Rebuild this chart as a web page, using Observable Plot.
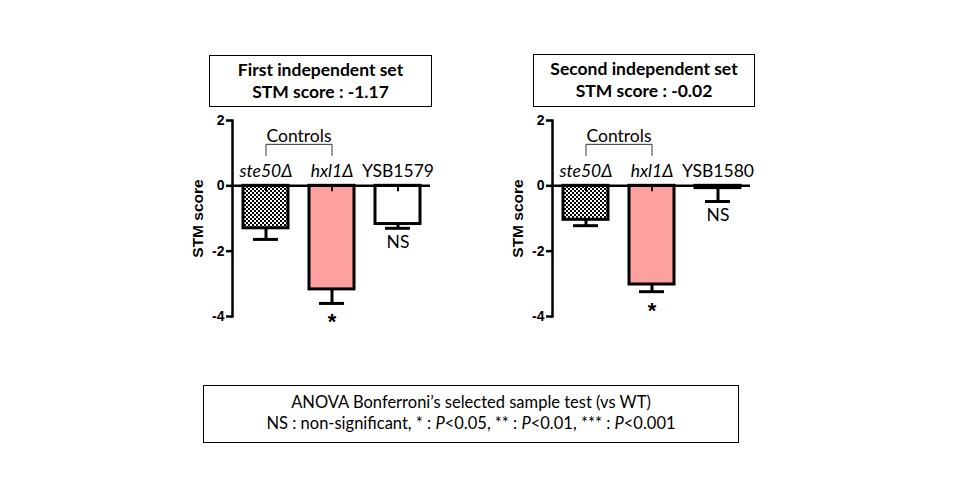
<!DOCTYPE html>
<html>
<head>
<meta charset="utf-8">
<script src="https://cdn.jsdelivr.net/npm/d3@7"></script>
<script src="https://cdn.jsdelivr.net/npm/@observablehq/plot@0.6"></script>
<style>
  html, body { margin: 0; padding: 0; background: #fff; }
  #wrap { position: relative; width: 960px; height: 500px; overflow: hidden; background: #fff; }
  .box { position: absolute; border: 1px solid #000; box-sizing: border-box; text-align: center; font-family: Lato, "Open Sans", sans-serif; color: #000; }
  .title { font-weight: bold; font-size: 17.5px; line-height: 22px; padding-top: 3px; }
  .note { font-size: 16.5px; line-height: 21px; padding-top: 6px; }
  .panel { position: absolute; top: 40px; }
</style>
</head>
<body>
<div id="wrap">
  <svg width="0" height="0" style="position:absolute">
    <defs>
      <pattern id="checker" width="4" height="4" patternUnits="userSpaceOnUse">
        <rect width="4" height="4" fill="#fff"></rect>
        <rect x="0" y="0" width="2" height="2" fill="#000"></rect>
        <rect x="2" y="2" width="2" height="2" fill="#000"></rect>
      </pattern>
    </defs>
  </svg>
  <div class="box title" style="left:209px; top:55px; width:223px; height:52px;">First independent set<br>STM score : -1.17</div>
  <div class="box title" style="left:533px; top:54px; width:222px; height:53px;">Second independent set<br>STM score : -0.02</div>
  <div class="box note" style="left:203px; top:385px; width:536px; height:58px;">ANOVA Bonferroni’s selected sample test (vs WT)<br>NS : non-significant, * : <i>P</i>&lt;0.05, ** : <i>P</i>&lt;0.01, *** : <i>P</i>&lt;0.001</div>
</div>
<script>
// ---- data ----
const categories1 = ["ste50Δ", "hxl1Δ", "YSB1579"];
const means1 = [-1.30, -3.17, -1.17];
const sem1 = [0.34, 0.43, 0.13];
const categories2 = ["ste50Δ", "hxl1Δ", "YSB1580"];
const means2 = [-1.04, -3.02, -0.07];
const sem2 = [0.18, 0.22, 0.41];
const significance = ["", "*", "NS"];
const italicLabel = [true, true, false];
const fills = ["url(#checker)", "#FFA0A0", "#FFFFFF"];
const yTicks = [2, 0, -2, -4];
const bracketLabel = "Controls";
const bracketTop = 1.27, bracketFoot = 0.93, bracketText = 1.52;

function panel(categories, means, sems, left) {
  const data = categories.map((c, i) => ({
    cat: c, value: means[i], err: means[i] - sems[i],
    sig: significance[i], italic: italicLabel[i], fill: fills[i]
  }));
  const bracket = [
    {x: categories[0], y: bracketFoot}, {x: categories[0], y: bracketTop},
    {x: categories[1], y: bracketTop}, {x: categories[1], y: bracketFoot}
  ];
  const svg = Plot.plot({
    width: 320, height: 306,
    marginLeft: 72, marginRight: 50, marginTop: 80, marginBottom: 30,
    style: {fontFamily: "Lato", overflow: "visible", background: "transparent"},
    x: {domain: categories, paddingInner: 0.32, paddingOuter: 0.16, axis: null},
    y: {domain: [-4, 2], axis: null},
    marks: [
      Plot.barY(data, {x: "cat", y: "value", fill: "fill", stroke: "#000", strokeWidth: 3}),
      Plot.ruleX(data, {x: "cat", y1: 0, y2: -0.18, stroke: "#000", strokeWidth: 2}),
      Plot.ruleX(data, {x: "cat", y1: "value", y2: "err", stroke: "#000", strokeWidth: 3}),
      Plot.tickY(data, {x: "cat", y: "err", stroke: "#000", strokeWidth: 3, insetLeft: 10, insetRight: 10}),
      Plot.ruleY([0], {stroke: "#000", strokeWidth: 2.5}),
      Plot.frame({anchor: "left", stroke: "#000", strokeWidth: 2.5}),
      Plot.axisY({ticks: yTicks, tickFormat: d => String(d), tickSize: 6, tickPadding: 2,
        fontSize: 14, fontWeight: "bold", fontFamily: "Liberation Sans", strokeWidth: 2.5, label: null}),
      Plot.text(["STM score"], {frameAnchor: "left", textAnchor: "middle", rotate: -90, dx: -34, fontSize: 15.5,
        fontWeight: "bold", fontFamily: "Liberation Sans", fill: "#000"}),
      Plot.text(data.filter(d => d.italic), {x: "cat", y: 0, text: "cat", dy: -14, fontSize: 17.5, fontStyle: "italic", fill: "#000"}),
      Plot.text(data.filter(d => !d.italic), {x: "cat", y: 0, text: "cat", dy: -14, fontSize: 17.5, fill: "#000"}),
      Plot.text(data.filter(d => d.sig === "NS"), {x: "cat", y: "err", text: "sig", dy: 14, fontSize: 17.5, fill: "#000"}),
      Plot.text(data.filter(d => d.sig === "*"), {x: "cat", y: "err", text: "sig", dy: 19, fontSize: 22, fontWeight: "bold", fontFamily: "Liberation Sans", fill: "#000"}),
      Plot.line(bracket, {x: "x", y: "y", stroke: "#333", strokeWidth: 1}),
      Plot.text([bracketLabel], {x: () => categories[0], y: () => bracketText, dx: 33, fontSize: 17.5, fill: "#000"})
    ]
  });
  svg.classList.add("panel");
  svg.style.left = left + "px";
  svg.style.top = "40px";
  svg.style.position = "absolute";
  document.getElementById("wrap").appendChild(svg);
}
panel(categories1, means1, sem1, 160);
panel(categories2, means2, sem2, 480);
</script>
</body>
</html>
